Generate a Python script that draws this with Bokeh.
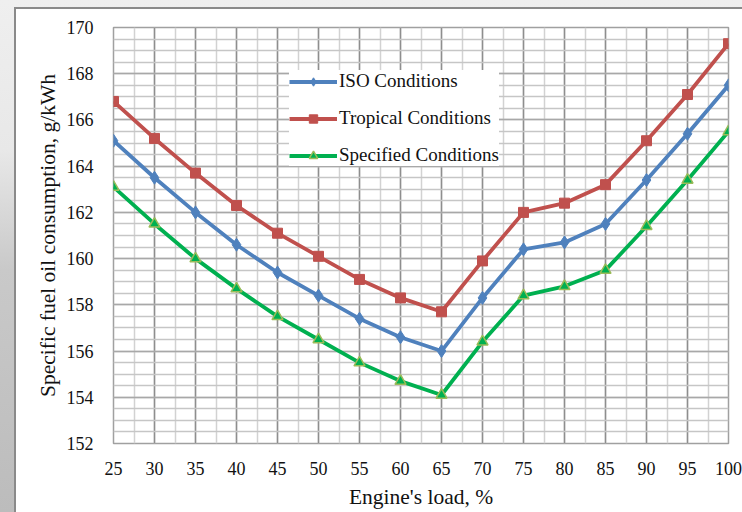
from bokeh.plotting import figure
from bokeh.models import SingleIntervalTicker, Range1d
from bokeh.embed import file_html
from bokeh.resources import INLINE

# ---- data ----
loads = [25, 30, 35, 40, 45, 50, 55, 60, 65, 70, 75, 80, 85, 90, 95, 100]
iso = [165.1, 163.5, 162.0, 160.6, 159.4, 158.4, 157.4, 156.6, 156.0,
       158.3, 160.4, 160.7, 161.5, 163.4, 165.4, 167.5]
tropical = [166.8, 165.2, 163.7, 162.3, 161.1, 160.1, 159.1, 158.3, 157.7,
            159.9, 162.0, 162.4, 163.2, 165.1, 167.1, 169.3]
specified = [163.1, 161.5, 160.0, 158.7, 157.5, 156.5, 155.5, 154.7, 154.1,
             156.4, 158.4, 158.8, 159.5, 161.4, 163.4, 165.5]
series_names = ["ISO Conditions", "Tropical Conditions", "Specified Conditions"]
x_title = "Engine's load, %"
y_title = "Specific fuel oil consumption, g/kWh"

FONT = "Liberation Serif"

p = figure(width=742, height=512,
           x_range=Range1d(25, 100), y_range=Range1d(152, 170),
           output_backend="svg", toolbar_location=None,
           min_border_left=113, min_border_right=14,
           min_border_top=27, min_border_bottom=69,
           border_fill_color=None, background_fill_color="white",
           outline_line_color="#a0a0a0", outline_line_width=1.5)

p.xaxis.ticker = SingleIntervalTicker(interval=5, num_minor_ticks=2)
p.yaxis.ticker = SingleIntervalTicker(interval=2, num_minor_ticks=4)

p.xgrid.grid_line_color = "#8e8e8e"
p.xgrid.grid_line_width = 1.5
p.xgrid.minor_grid_line_color = "#d2d2d2"
p.xgrid.minor_grid_line_width = 1.5
p.ygrid.grid_line_color = "#a8a8a8"
p.ygrid.grid_line_width = 1.5
p.ygrid.minor_grid_line_color = "#c6c6c6"
p.ygrid.minor_grid_line_width = 1.5

for ax in (p.xaxis, p.yaxis):
    ax.axis_line_color = None
    ax.major_tick_line_color = None
    ax.minor_tick_line_color = None
    ax.major_label_text_font = FONT
    ax.major_label_text_font_size = "18px"
    ax.major_label_text_color = "#111111"
    ax.axis_label_text_font = FONT
    ax.axis_label_text_font_size = "21.5px"
    ax.axis_label_text_font_style = "normal"
    ax.axis_label_text_color = "#111111"

p.xaxis.axis_label = x_title
p.yaxis.axis_label = y_title
p.xaxis.major_label_standoff = 12
p.xaxis.axis_label_standoff = 7
p.yaxis.major_label_standoff = 14
p.yaxis.axis_label_standoff = 4

# ISO
p.line(loads, iso, line_color="#4F81BD", line_width=3.8, legend_label=series_names[0])
p.scatter(loads, iso, marker="diamond", size=13, fill_color="#4F81BD",
          line_color="#4F81BD", legend_label=series_names[0])
# Tropical
p.line(loads, tropical, line_color="#C0504D", line_width=3.8, legend_label=series_names[1])
p.scatter(loads, tropical, marker="square", size=10, fill_color="#C0504D",
          line_color="#C0504D", legend_label=series_names[1])
# Specified
p.line(loads, specified, line_color="#00B050", line_width=3.8, legend_label=series_names[2])
p.scatter(loads, specified, marker="triangle", size=11, fill_color="#00B050",
          line_color="#9BBB59", line_width=1.5, legend_label=series_names[2])

lg = p.legend[0]
lg.location = (176, 277)
lg.label_text_font = FONT
lg.label_text_font_size = "19px"
lg.label_text_color = "#111111"
lg.border_line_color = None
lg.background_fill_color = "white"
lg.background_fill_alpha = 1.0
lg.glyph_width = 48
lg.glyph_height = 21
lg.label_height = 21
lg.label_standoff = 2
lg.padding = 14
lg.spacing = 15
lg.margin = 0

css = """<style>
html { height: 100%; background:
  linear-gradient(#8a8a8a,#8a8a8a) 14px 7px / 100% 2px no-repeat,
  linear-gradient(#8a8a8a,#8a8a8a) 14px 7px / 2px 100% no-repeat,
  linear-gradient(#ffffff,#ffffff) 16px 9px / 100% 100% no-repeat,
  linear-gradient(to bottom, #efefef 0px, #e8e8e8 150px, #c9c9c9 270px, #bcbcbc 512px) !important; }
body { background: transparent !important; }
</style>"""

html = file_html(p, INLINE)
html = html.replace("</head>", css + "</head>", 1)
open("out.html", "w").write(html)
